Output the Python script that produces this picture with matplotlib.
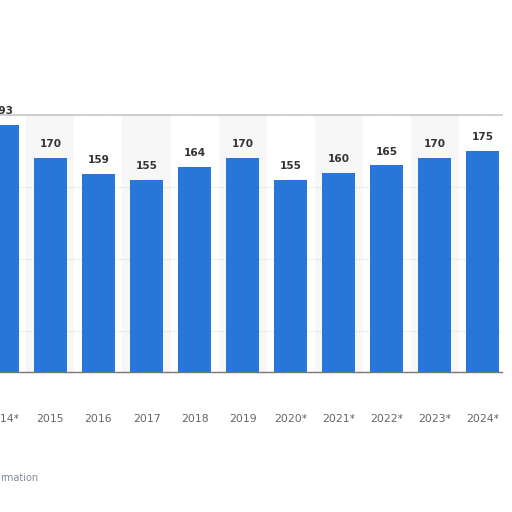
import matplotlib
matplotlib.use("Agg")
import matplotlib.pyplot as plt

years = ["2014*", "2015", "2016", "2017", "2018", "2019", "2020*", "2021*", "2022*", "2023*", "2024*"]
values = [193, 170, 159, 155, 164, 170, 155, 160, 165, 170, 175]

BLUE = "#2876d8"

fig = plt.figure(figsize=(5.12, 5.12), dpi=100)
fig.patch.set_facecolor("white")
ax = fig.add_axes([0.0, 1 - 372 / 512, 502 / 512, 257 / 512])
ax.set_facecolor("white")

x = list(range(len(years)))
# alternating column bands
for i in x:
    if i % 2 == 1:
        ax.axvspan(i - 0.5, i + 0.5, color="#f7f7f7", zorder=0, lw=0)

ax.bar(x, values, width=0.69, color=BLUE, zorder=3)

for i, v in zip(x, values):
    ax.annotate(str(v), (i, v), xytext=(0, 10), textcoords="offset points",
                ha="center", va="center", fontsize=7.6, fontweight="bold",
                color="#333333", zorder=5)

ax.set_ylim(21.5, 200)
ax.set_xlim(-0.052, 10.406)
ax.set_yticks([50, 100, 150, 200])
ax.yaxis.grid(True, color="#d8d8d8", linestyle=(0, (1, 1.5)), linewidth=0.8, zorder=1)
ax.tick_params(axis="y", left=False, labelleft=False)
ax.set_xticks(x)
ax.set_xticklabels(years, fontsize=7.8, color="#666666")
ax.tick_params(axis="x", length=0, pad=30)

for s in ["left", "right"]:
    ax.spines[s].set_visible(False)
ax.spines["top"].set_color("#c8c8c8")
ax.spines["top"].set_linewidth(1.2)
ax.spines["bottom"].set_color("#777777")
ax.spines["bottom"].set_linewidth(1.0)

fig.text(0.0, 1 - 478 / 512, "rmation", fontsize=7, color="#7d8b99", ha="left", va="center")

fig.savefig("out.png", dpi=100, facecolor="white")
